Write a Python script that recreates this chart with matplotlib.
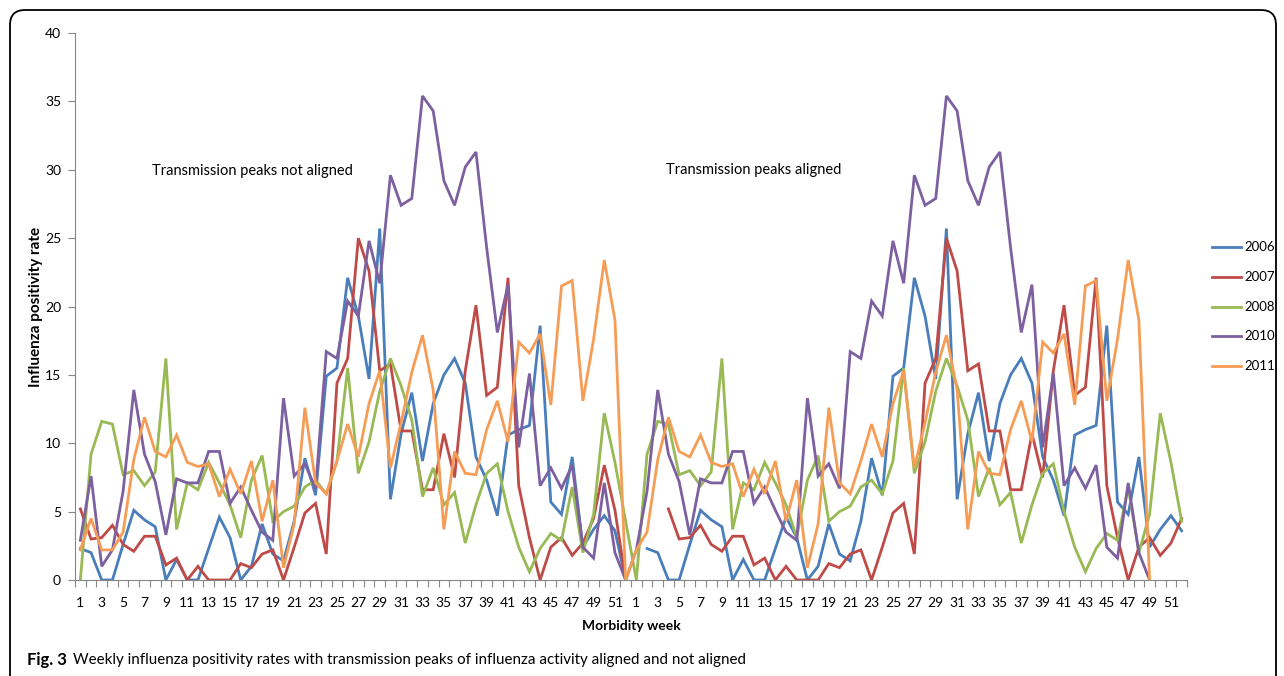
import numpy as np
import matplotlib.pyplot as plt
from matplotlib.patches import FancyBboxPatch
from matplotlib.lines import Line2D

# weekly influenza positivity rate, weeks 1-52 (not aligned)
rate_2006 = [2.3, 2.0, 0, 0, 2.6, 5.1, 4.4, 3.9, 0, 1.5, 0, 0, 2.3, 4.6, 3.1, 0,
             1.0, 4.1, 1.9, 1.4, 4.3, 8.9, 6.2, 14.9, 15.5, 22.1, 19.3, 14.7, 25.7,
             5.9, 10.7, 13.7, 8.7, 12.9, 15.0, 16.2, 14.4, 9.0, 7.3, 4.7, 10.6,
             11.0, 11.3, 18.6, 5.7, 4.8, 9.0, 2.4, 3.7, 4.7, 3.6, 0]
rate_2007 = [5.2, 3.0, 3.1, 4.0, 2.6, 2.1, 3.2, 3.2, 1.1, 1.6, 0, 1.0, 0, 0, 0, 1.2,
             0.9, 1.9, 2.2, 0, 2.4, 4.9, 5.6, 1.9, 14.4, 16.2, 25.0, 22.6, 15.3,
             15.8, 10.9, 10.9, 6.6, 6.6, 10.7, 7.5, 15.3, 20.1, 13.5, 14.1, 22.1,
             6.9, 3.1, 0, 2.4, 3.1, 1.8, 2.7, 4.5, 8.4, 5.1, 0]
rate_2008 = [0, 9.2, 11.6, 11.4, 7.7, 8.0, 6.9, 7.9, 16.2, 3.7, 7.1, 6.6, 8.6, 7.1,
             5.5, 3.1, 7.3, 9.1, 4.3, 5.0, 5.4, 6.8, 7.3, 6.3, 8.7, 15.5, 7.8, 10.1,
             13.8, 16.2, 14.2, 11.7, 6.1, 8.2, 5.5, 6.4, 2.7, 5.5, 7.8, 8.5, 5.0,
             2.4, 0.6, 2.3, 3.4, 2.9, 6.8, 2.0, 4.8, 12.2, 8.6, 4.3]
rate_2010 = [2.9, 7.6, 1.0, 2.2, 6.5, 13.9, 9.2, 7.2, 3.3, 7.4, 7.1, 7.1, 9.4, 9.4,
             5.6, 6.8, 5.1, 3.5, 2.9, 13.3, 7.6, 8.5, 6.7, 16.7, 16.2, 20.4, 19.3,
             24.8, 21.7, 29.6, 27.4, 27.9, 35.4, 34.3, 29.2, 27.4, 30.2, 31.3, 24.3,
             18.1, 21.6, 9.7, 15.1, 6.9, 8.2, 6.7, 8.4, 2.4, 1.6, 7.1, 2.0, 0]
rate_2011 = [2.2, 4.5, 2.2, 2.2, 3.5, 8.8, 11.9, 9.4, 9.0, 10.6, 8.6, 8.3, 8.5, 6.1,
             8.1, 6.3, 8.7, 4.3, 7.3, 0.9, 4.1, 12.6, 7.1, 6.3, 8.7, 11.4, 9.0, 12.9,
             15.3, 8.2, 11.5, 15.2, 17.9, 13.9, 3.7, 9.4, 7.8, 7.7, 11.0, 13.1, 10.1,
             17.4, 16.6, 18.0, 12.8, 21.5, 21.9, 13.1, 17.6, 23.4, 19.0, 0]

years = ['2006', '2007', '2008', '2010', '2011']
rates = [rate_2006, rate_2007, rate_2008, rate_2010, rate_2011]
# weeks each season is moved so the transmission peaks line up
shifts = [1, 3, 0, -3, -3]
colors = ['#4A7EBB', '#BE4B48', '#98B954', '#7D60A0', '#F59D56']


def aligned(raw, shift):
    out = []
    for w in range(1, 53):
        src = w - shift
        out.append(raw[src - 1] if 1 <= src <= 52 else np.nan)
    return out


W, H = 1284, 676
fig = plt.figure(figsize=(W / 100, H / 100), dpi=100)
ax = fig.add_axes([75 / W, 96 / H, 1112 / W, 547 / H])

x = np.arange(1, 105)
for yr, raw, sh, c in zip(years, rates, shifts, colors):
    y = np.array(list(raw) + aligned(raw, sh), dtype=float)
    ax.plot(x, y, color=c, lw=2.0, solid_joinstyle='miter', label=yr)

ax.set_xlim(0.5, 104.5)
ax.set_ylim(0, 40)
ax.set_yticks(range(0, 41, 5))
tick_pos = list(range(1, 53, 2)) + list(range(53, 105, 2))
tick_lab = [str(w) for w in range(1, 53, 2)] * 2
ax.set_xticks(tick_pos)
ax.set_xticklabels(tick_lab)
ax.set_xticks(np.arange(0.5, 105, 1), minor=True)
ax.tick_params(axis='x', which='major', length=0, pad=12, labelsize=10)
ax.tick_params(axis='x', which='minor', length=5, color='#868686', width=0.8)
ax.tick_params(axis='y', length=5, color='#868686', width=0.8, labelsize=10, pad=5)
for lab in ax.get_xticklabels() + ax.get_yticklabels():
    lab.set_family('Lato')

for s in ['top', 'right']:
    ax.spines[s].set_visible(False)
for s in ['left', 'bottom']:
    ax.spines[s].set_color('#868686')
    ax.spines[s].set_linewidth(0.8)

ax.set_ylabel('Influenza positivity rate', family='Lato', weight='bold', fontsize=11, labelpad=1)
ax.set_xlabel('Morbidity week', family='Lato', weight='bold', fontsize=10, labelpad=8)

ax.text(17.1, 29.9, 'Transmission peaks not aligned', family='Lato', fontsize=10.5,
        ha='center', va='center')
ax.text(64.0, 30.0, 'Transmission peaks aligned', family='Lato', fontsize=10.5,
        ha='center', va='center')

# legend drawn by hand at the right edge
for i, (yr, c) in enumerate(zip(years, colors)):
    ly = 1 - (247 + i * 29.8) / H
    fig.add_artist(Line2D([1212 / W, 1241 / W], [ly, ly], color=c, lw=2.0,
                          transform=fig.transFigure))
    fig.text(1244 / W, ly, yr, family='Lato', fontsize=9.5, va='center', ha='left')

# rounded frame of the figure panel
frame = FancyBboxPatch((0.10, -0.3), 12.66, 6.96, boxstyle='round,pad=0,rounding_size=0.15',
                       transform=fig.dpi_scale_trans, fill=False, ec='black', lw=1.3)
fig.add_artist(frame)

cap_y = 1 - 660 / H
t1 = fig.text(27 / W, cap_y, 'Fig. 3', family='Lato', weight='bold', fontsize=12,
              va='center')
fig.canvas.draw()
bb = t1.get_window_extent()
fig.text((bb.x1 + 6) / W, cap_y,
         'Weekly influenza positivity rates with transmission peaks of influenza activity aligned and not aligned',
         family='Lato', fontsize=10.9, va='center')

fig.savefig('out.png', dpi=100)
